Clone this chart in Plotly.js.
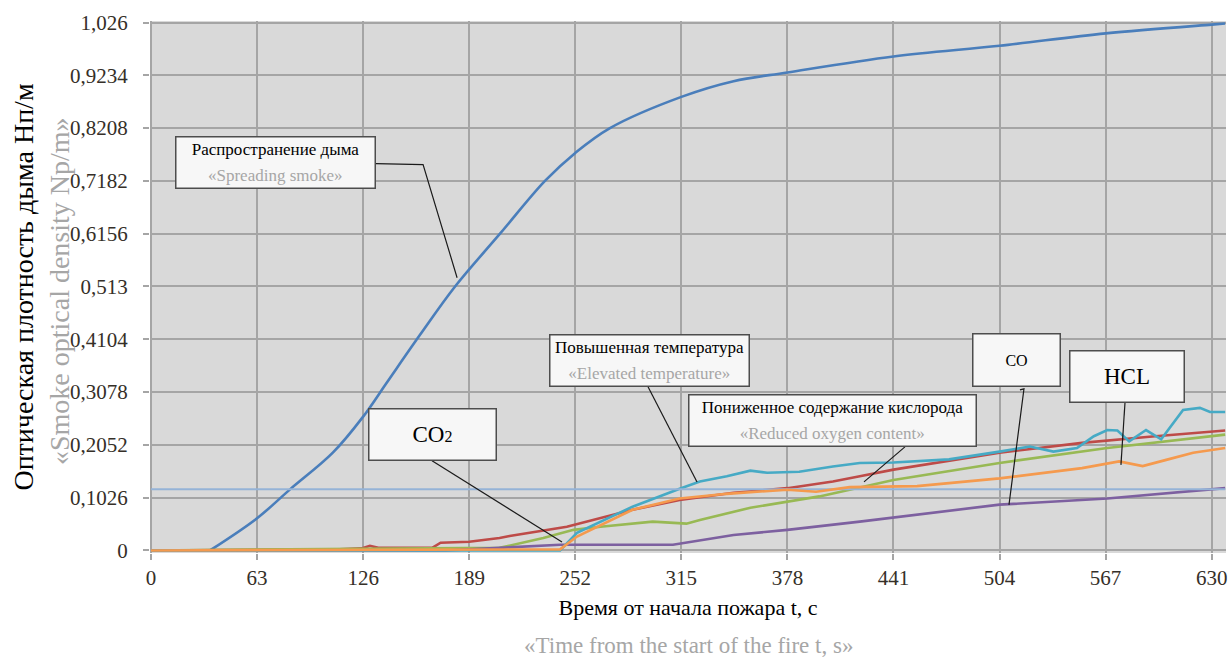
<!DOCTYPE html>
<html>
<head>
<meta charset="utf-8">
<script src="https://cdn.plot.ly/plotly-3.0.1.min.js"></script>
<style>html,body{margin:0;padding:0;background:#fff;}#chart{width:1230px;height:659px;}</style>
</head>
<body>
<div id="chart"></div>
<script>
// ---- data ----
const xTicks = [0, 63, 126, 189, 252, 315, 378, 441, 504, 567, 630];
const xTickText = ['0','63','126','189','252','315','378','441','504','567','630'];
const yTicks = [0, 0.1026, 0.2052, 0.3078, 0.4104, 0.513, 0.6156, 0.7182, 0.8208, 0.9234, 1.026];
const yTickText = ['0','0,1026','0,2052','0,3078','0,4104','0,513','0,6156','0,7182','0,8208','0,9234','1,026'];

// smoke is zero (hidden under the zero-level lines) until about t = 35 s
const smokeT = [35, 63, 82.6, 108, 126, 140, 160, 180.6, 207.3, 234, 252, 272.6, 315, 346, 378, 441, 504, 567, 630, 638];
const smokeV = [0, 0.0626, 0.1187, 0.190, 0.260, 0.326, 0.420, 0.513, 0.6156, 0.7182, 0.7726, 0.8208, 0.8815, 0.912, 0.929, 0.960, 0.981, 1.005, 1.022, 1.024];

const limitT = [0, 638];
const limitV = [0.1187, 0.1187];

const redT = [0, 112, 125, 130, 135, 167, 172, 189, 207, 213, 247, 286, 314, 346, 378, 405, 421, 441, 504, 553, 593, 638];
const redV = [0, 0.002, 0.004, 0.009, 0.005, 0.005, 0.015, 0.017, 0.024, 0.028, 0.046, 0.079, 0.098, 0.112, 0.121, 0.134, 0.144, 0.157, 0.190, 0.209, 0.221, 0.233];

const greenT = [0, 207, 233, 251, 267, 298, 318, 326, 356, 397, 415, 441, 504, 568, 638];
const greenV = [0, 0.005, 0.024, 0.040, 0.046, 0.056, 0.052, 0.059, 0.083, 0.105, 0.118, 0.137, 0.170, 0.199, 0.225];

const purpleT = [0, 175, 207, 243, 310, 346, 378, 421, 504, 568, 638];
const purpleV = [0, 0, 0.005, 0.011, 0.011, 0.030, 0.040, 0.056, 0.089, 0.101, 0.121];

const cyanT = [0, 243, 253, 286, 314, 326, 342, 356, 366, 385, 405, 421, 441, 474, 504, 522, 536, 550, 560, 568, 574, 581, 591, 600, 613, 623, 629, 638];
const cyanV = [0, 0, 0.034, 0.085, 0.120, 0.134, 0.144, 0.155, 0.151, 0.153, 0.163, 0.170, 0.171, 0.177, 0.192, 0.202, 0.192, 0.199, 0.222, 0.234, 0.233, 0.212, 0.234, 0.216, 0.273, 0.277, 0.269, 0.269];

const orangeT = [0, 243, 253, 286, 314, 342, 378, 395, 415, 455, 504, 553, 575, 589, 603, 619, 638];
const orangeV = [0, 0.002, 0.027, 0.079, 0.101, 0.110, 0.118, 0.114, 0.123, 0.125, 0.140, 0.160, 0.173, 0.164, 0.176, 0.190, 0.199];

// ---- styles ----
const SERIF = '"Liberation Serif", "DejaVu Serif", serif';
function line(x, y, color, w, smooth) {
  const ln = {color: color, width: w};
  if (smooth) { ln.shape = 'spline'; ln.smoothing = 1; }
  return {x: x, y: y, type: 'scatter', mode: 'lines', line: ln, hoverinfo: 'skip', showlegend: false};
}
const traces = [
  line(smokeT, smokeV, '#4A7EBB', 2.6, true),
  line(redT, redV, '#BE4B48', 2.6),
  line(greenT, greenV, '#98B954', 2.6),
  line(purpleT, purpleV, '#7D60A0', 2.6),
  line(cyanT, cyanV, '#46AAC5', 2.6),
  line(limitT, limitV, '#95B3D7', 2),
  line(orangeT, orangeV, '#F59A4E', 2.6)
];

const axisCommon = {
  showgrid: true, gridcolor: '#a5a5a5', gridwidth: 2,
  zeroline: false, showline: false,
  ticks: 'outside', ticklen: 6, tickwidth: 2, tickcolor: '#a5a5a5',
  tickfont: {family: SERIF, size: 21, color: '#352f28'},
  fixedrange: true
};

function callout(x, y, html, w, h, size) {
  return {x: x, y: y, xref: 'x', yref: 'y', xanchor: 'center', yanchor: 'middle', showarrow: false, text: html,
    font: {family: SERIF, size: size, color: '#000'}, align: 'center',
    bgcolor: '#f7f7f7', bordercolor: '#4d4d4d', borderwidth: 1.5, borderpad: 0,
    width: w, height: h};
}
const gray = 'color:#a6a6a6';

const layout = {
  width: 1230, height: 659,
  margin: {l: 150, r: 4, t: 21, b: 106},
  paper_bgcolor: '#ffffff', plot_bgcolor: '#d9d9d9',
  showlegend: false,
  font: {family: SERIF},
  xaxis: Object.assign({}, axisCommon, {
    range: [-0.6, 638.5], tickmode: 'array', tickvals: xTicks, ticktext: xTickText,
    title: {text: 'Время от начала пожара t, с', font: {family: SERIF, size: 22, color: '#000'}, standoff: 10}
  }),
  yaxis: Object.assign({}, axisCommon, {
    range: [-0.005, 1.029], tickmode: 'array', tickvals: yTicks, ticktext: yTickText,
    ticklabelstandoff: 11,
    title: {text: 'Оптическая плотность дыма Нп/м', font: {family: SERIF, size: 28, color: '#000'}, standoff: 28}
  }),
  annotations: [
    {xref: 'paper', yref: 'paper', x: 0.5, y: -0.173, xanchor: 'center', yanchor: 'middle', showarrow: false,
     text: '«Time from the start of the fire t, s»', font: {family: SERIF, size: 23, color: '#a6a6a6'}},
    {xref: 'paper', yref: 'paper', x: -0.0836, y: 0.4925, xanchor: 'center', yanchor: 'middle', showarrow: false, textangle: -90,
     text: '«Smoke optical density Np/m»', font: {family: SERIF, size: 28, color: '#a6a6a6'}},
    callout(73.9, 0.7537, '<span style="font-size:17px">Распространение дыма</span><br><span style="font-size:17px;' + gray + '">«Spreading smoke»</span>', 198, 50, 20),
    callout(296.1, 0.3696, '<span style="font-size:17px">Повышенная температура</span><br><span style="font-size:17px;' + gray + '">«Elevated temperature»</span>', 198, 50, 19.5),
    callout(167.2, 0.2256, 'CO<span style="font-size:16px">2</span>', 126, 50, 23),
    callout(404.8, 0.2529, '<span style="font-size:17px">Пониженное содержание кислорода</span><br><span style="font-size:17px;' + gray + '">«Reduced oxygen content»</span>', 286, 50, 19.5),
    callout(514.1, 0.3706, 'CO', 86, 51, 16),
    callout(579.7, 0.3385, 'HCL', 113, 50, 23)
  ],
  shapes: [
    {type: 'path', xref: 'x', yref: 'y', path: 'M 133.6,0.7518 L 161.6,0.7499 L 181.8,0.530', line: {color: '#1a1a1a', width: 1.2}},
    {type: 'line', xref: 'x', yref: 'y', x0: 295.2, y0: 0.318, x1: 324.3, y1: 0.1332, line: {color: '#1a1a1a', width: 1.2}},
    {type: 'line', xref: 'x', yref: 'y', x0: 166.9, y0: 0.1741, x1: 244.1, y1: 0.0165, line: {color: '#1a1a1a', width: 1.2}},
    {type: 'line', xref: 'x', yref: 'y', x0: 447.8, y0: 0.2013, x1: 423.5, y1: 0.1332, line: {color: '#1a1a1a', width: 1.2}},
    {type: 'path', xref: 'x', yref: 'y', path: 'M 516.1,0.3122 L 518.5,0.3141 L 509.6,0.0885', line: {color: '#1a1a1a', width: 1.2}},
    {type: 'line', xref: 'x', yref: 'y', x0: 578.5, y0: 0.2869, x1: 576.1, y1: 0.1663, line: {color: '#1a1a1a', width: 1.2}}
  ]
};

Plotly.newPlot('chart', traces, layout, {displayModeBar: false, staticPlot: true});
</script>
</body>
</html>
